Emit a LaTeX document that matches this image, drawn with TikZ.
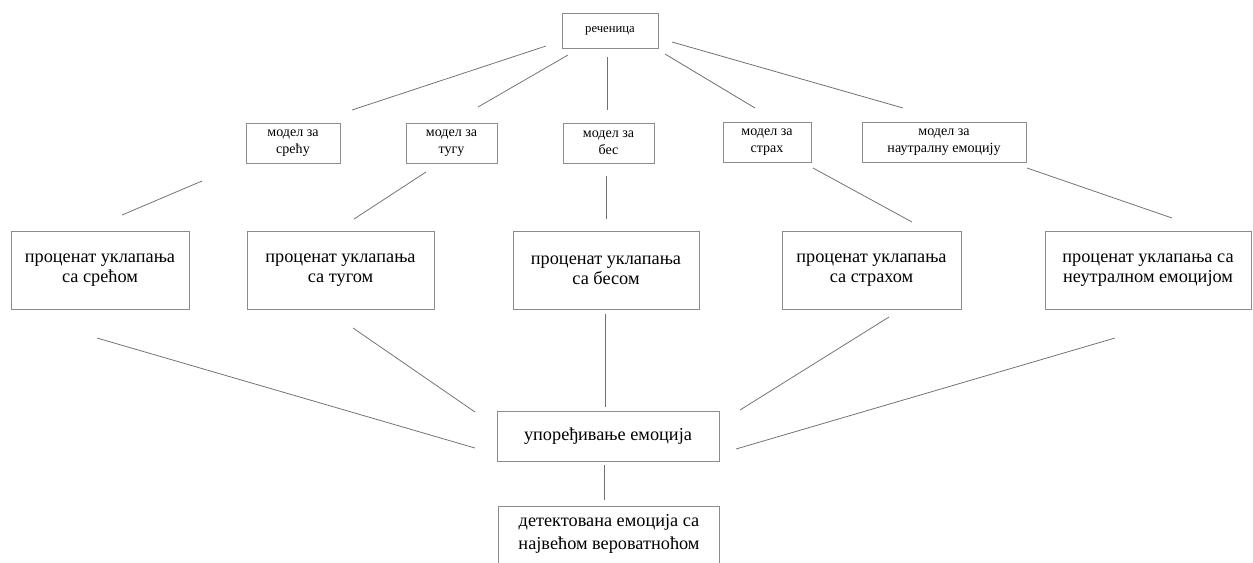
\documentclass[tikz,border=0pt]{standalone}
\usepackage{fontspec}
\setmainfont{Liberation Serif}
\usepackage{tikz}
\usetikzlibrary{calc}
\definecolor{boxgray}{RGB}{140,140,140}
\definecolor{linegray}{RGB}{112,112,112}

\begin{document}
\begin{tikzpicture}[
  x=0.025cm, y=-0.025cm,
  link/.style={draw=linegray, line width=0.55pt},
  model_box/.style={draw=boxgray, line width=0.6pt, rectangle, minimum height=1.0cm, inner sep=0pt, align=center, font=\fontsize{10}{12}\selectfont},
  top_box/.style={model_box, minimum width=2.4cm, minimum height=0.875cm, font=\fontsize{9}{11}\selectfont},
  score_box/.style={draw=boxgray, line width=0.6pt, rectangle, minimum height=1.95cm, inner sep=0pt, align=center, font=\fontsize{13}{14.5}\selectfont}
]
  \useasboundingbox (0,0) rectangle (1253,562);

  % Top: the sentence
  \node (sent) [top_box] at (610,30.5) {реченица};

  % Models, one per emotion
  \node (m1) [model_box, minimum width=2.35cm] at (293,143) {модел за\\срећу};
  \node (m2) [model_box, minimum width=2.275cm] at (451.5,143) {модел за\\тугу};
  \node (m3) [model_box, minimum width=2.275cm] at (608.5,143) {модел за\\бес};
  \node (m4) [model_box, minimum width=2.2cm] at (767,142.5) {модел за\\страх};
  \node (m5) [model_box, minimum width=4.1cm] at (944,142.5) {модел за\\наутралну емоцију};

  % Match percentages
  \node (p1) [score_box, minimum width=4.45cm] at (100,270) {проценат уклапања\\са срећом};
  \node (p2) [score_box, minimum width=4.675cm] at (340.5,270) {проценат уклапања\\са тугом};
  \node (p3) [score_box, minimum width=4.65cm] at (606,270) {проценат уклапања\\са бесом};
  \node (p4) [score_box, minimum width=4.475cm] at (871.5,270) {проценат уклапања\\са страхом};
  \node (p5) [score_box, minimum width=5.15cm] at (1148,270) {проценат уклапања са\\неутралном емоцијом};

  % Comparison and result
  \node (cmp) [score_box, minimum width=5.55cm, minimum height=1.25cm] at (608,436) {упоређивање емоција};
  \node (det) [score_box, draw=none, minimum width=5.5cm, minimum height=1.35cm, font=\fontsize{13}{16.5}\selectfont] at (609,534) {детектована емоција са\\највећом вероватноћом};
  \draw[draw=boxgray, line width=0.6pt] ($(det.south west)+(0,30)$) -- (det.north west) -- (det.north east) -- ($(det.south east)+(0,30)$);

  % Loose ends of the connectors
  \coordinate (a1) at (546,46);  \coordinate (b1) at (352,110);
  \coordinate (a2) at (568,55);  \coordinate (b2) at (478,107);
  \coordinate (a3) at (607,57);  \coordinate (b3) at (607,110);
  \coordinate (a4) at (665,54);  \coordinate (b4) at (755,108);
  \coordinate (a5) at (672,42);  \coordinate (b5) at (903,108);

  \coordinate (c1) at (202,181); \coordinate (d1) at (122,215);
  \coordinate (c2) at (426,172); \coordinate (d2) at (354,219);
  \coordinate (c3) at (606,176); \coordinate (d3) at (606,219);
  \coordinate (c4) at (813,168); \coordinate (d4) at (912,222);
  \coordinate (c5) at (1027,168); \coordinate (d5) at (1172,218);

  \coordinate (e1) at (97,338);  \coordinate (f1) at (475,448);
  \coordinate (e2) at (353,328); \coordinate (f2) at (475,412);
  \coordinate (e3) at (605,314); \coordinate (f3) at (605,407);
  \coordinate (e4) at (889,317); \coordinate (f4) at (740,410);
  \coordinate (e5) at (1115,338); \coordinate (f5) at (736,449);

  \coordinate (g1) at (604,465); \coordinate (h1) at (604,500);

  % Connections
  \foreach \i in {1,...,5} {
    \draw[link] (a\i) -- (b\i);
    \draw[link] (c\i) -- (d\i);
    \draw[link] (e\i) -- (f\i);
  }
  \draw[link] (g1) -- (h1);

\end{tikzpicture}
\end{document}
